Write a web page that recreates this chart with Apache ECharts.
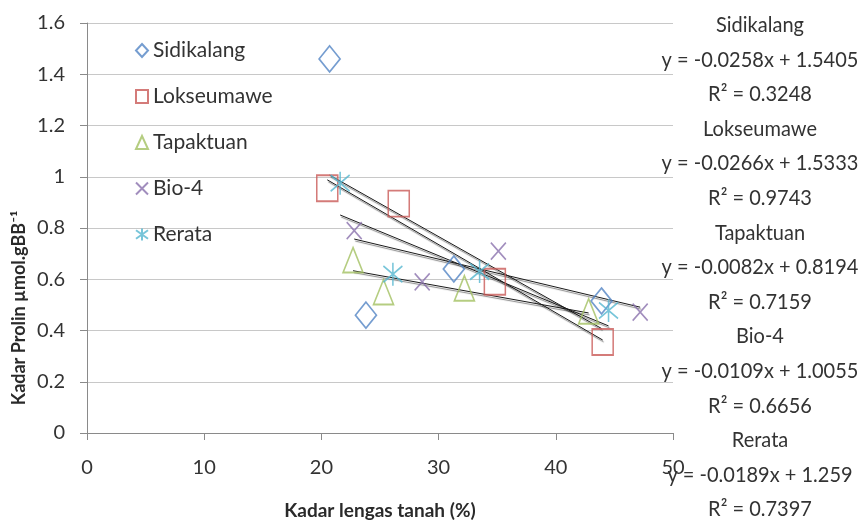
<!DOCTYPE html>
<html>
<head>
<meta charset="utf-8">
<script src="https://cdn.jsdelivr.net/npm/echarts@6/dist/echarts.min.js"></script>
<style>
  html, body { margin: 0; padding: 0; background: #fff; }
  #chart { width: 865px; height: 526px; }
</style>
</head>
<body>
<div id="chart"></div>
<script>
// Soil moisture (%) vs. proline content, four locations plus their mean
const seriesNames = ['Sidikalang', 'Lokseumawe', 'Tapaktuan', 'Bio-4', 'Rerata'];

const sidikalangX = [20.7, 23.8, 31.3, 43.9];
const sidikalangY = [1.46, 0.46, 0.64, 0.515];
const lokseumaweX = [20.5, 26.6, 34.8, 44.0];
const lokseumaweY = [0.955, 0.895, 0.59, 0.355];
const tapaktuanX = [22.7, 25.3, 32.2, 42.8];
const tapaktuanY = [0.675, 0.55, 0.565, 0.475];
const bio4X = [22.8, 28.6, 35.1, 47.2];
const bio4Y = [0.79, 0.59, 0.71, 0.472];
const rerataX = [21.6, 26.1, 33.5, 44.5];
const rerataY = [0.975, 0.62, 0.63, 0.478];

// Linear trendline coefficients and fit quality
const slopes = [-0.0258, -0.0266, -0.0082, -0.0109, -0.0189];
const intercepts = [1.5405, 1.5333, 0.8194, 1.0055, 1.259];
const rSquared = ['0.3248', '0.9743', '0.7159', '0.6656', '0.7397'];

const xTicks = [0, 10, 20, 30, 40, 50];
const yTicks = [0, 0.2, 0.4, 0.6, 0.8, 1, 1.2, 1.4, 1.6];

const xs = [sidikalangX, lokseumaweX, tapaktuanX, bio4X, rerataX];
const ys = [sidikalangY, lokseumaweY, tapaktuanY, bio4Y, rerataY];

const colors = ['#5284C4', '#C95A57', '#A2C062', '#8A70AC', '#55B6CF'];
const symbols = [
  'diamond',
  'rect',
  'triangle',
  'path://M0,0L10,10M10,0L0,10',
  'path://M5,0L5,10M0,1.5L10,8.5M10,1.5L0,8.5'
];
const symbolSizes = [[21, 26], [21, 26], [20, 25], [15, 17], [19, 23]];

const FONT = 'Lato, "Open Sans", sans-serif';

const series = [];
seriesNames.forEach((name, i) => {
  series.push({
    name: name,
    type: 'scatter',
    data: xs[i].map((x, k) => [x, ys[i][k]]),
    symbol: symbols[i],
    symbolSize: symbolSizes[i],
    itemStyle: { color: 'rgba(0,0,0,0)', borderColor: colors[i], borderWidth: 1.7 },
    z: 3
  });
});
// Trendlines over each series' x range
seriesNames.forEach((name, i) => {
  const x0 = Math.min(...xs[i]);
  const x1 = Math.max(...xs[i]);
  series.push({
    name: name + ' trend',
    type: 'line',
    data: [[x0, slopes[i] * x0 + intercepts[i]], [x1, slopes[i] * x1 + intercepts[i]]],
    symbol: 'none',
    lineStyle: {
      color: '#1a1a1a', width: 1,
      shadowColor: 'rgba(0,0,0,0.5)', shadowOffsetX: 1, shadowOffsetY: 2, shadowBlur: 1
    },
    silent: true,
    z: 2
  });
});

// Equation labels on the right
const graphics = [];
const rowStep = 34.6;
seriesNames.forEach((name, i) => {
  const sign = intercepts[i] >= 0 ? '+' : '-';
  const lines = [
    name,
    'y = ' + slopes[i] + 'x ' + sign + ' ' + Math.abs(intercepts[i]),
    'R² = ' + rSquared[i]
  ];
  lines.forEach((t, j) => {
    graphics.push({
      type: 'text',
      x: 760,
      y: 25 + (i * 3 + j) * rowStep,
      scaleY: 1.1,
      style: {
        text: t, fill: '#333', font: '20px ' + FONT,
        textAlign: 'center', textVerticalAlign: 'middle'
      }
    });
  });
});
// Rotated y-axis title
graphics.push({
  type: 'text',
  x: 19, y: 308,
  rotation: Math.PI / 2,
  style: {
    text: 'Kadar Prolin µmol.gBB⁻¹', fill: '#2a2a2a', font: 'bold 18px ' + FONT,
    textAlign: 'center', textVerticalAlign: 'middle'
  }
});

const chart = echarts.init(document.getElementById('chart'), null, { renderer: 'canvas' });
chart.setOption({
  animation: false,
  backgroundColor: '#fff',
  grid: { left: 87, right: 192, top: 23, bottom: 93 },
  legend: {
    data: seriesNames,
    orient: 'vertical',
    left: 130, top: 35,
    itemWidth: 12, itemHeight: 13,
    itemGap: 25,
    textStyle: { fontFamily: FONT, fontSize: 21, color: '#333' }
  },
  xAxis: {
    type: 'value',
    min: xTicks[0], max: xTicks[xTicks.length - 1], interval: 10,
    name: 'Kadar lengas tanah (%)',
    nameLocation: 'middle', nameGap: 68,
    nameTextStyle: { fontFamily: FONT, fontSize: 19, fontWeight: 'bold', color: '#2a2a2a' },
    axisLine: { lineStyle: { color: '#8a8a8a', width: 1 } },
    axisTick: { show: true, length: 7, lineStyle: { color: '#8a8a8a' } },
    axisLabel: { fontFamily: FONT, fontSize: 20, color: '#333', margin: 25 },
    splitLine: { show: false }
  },
  yAxis: {
    type: 'value',
    min: yTicks[0], max: yTicks[yTicks.length - 1], interval: 0.2,
    axisLine: { show: true, lineStyle: { color: '#8a8a8a', width: 1 } },
    axisTick: { show: true, length: 7, lineStyle: { color: '#8a8a8a' } },
    axisLabel: { fontFamily: FONT, fontSize: 20, color: '#333', margin: 22,
      formatter: v => String(Math.round(v * 10) / 10) },
    splitLine: { show: true, lineStyle: { color: '#c8c8c8', width: 1.2 } }
  },
  series: series,
  graphic: graphics
});
</script>
</body>
</html>
